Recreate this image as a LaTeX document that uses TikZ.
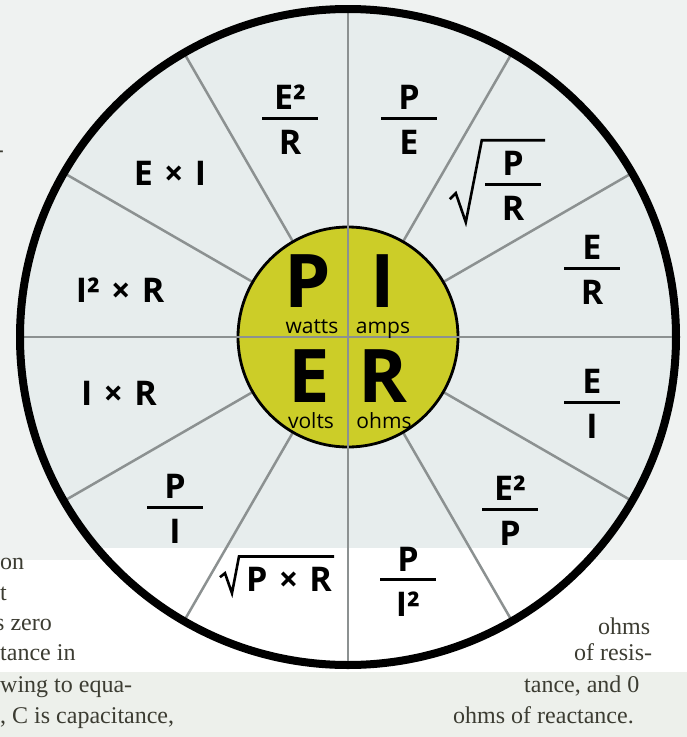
\documentclass[tikz,border=0pt]{standalone}
\usepackage{fontspec}
\setmainfont{Liberation Serif}
\newfontfamily\formfont{Open Sans}
\usetikzlibrary{positioning}
\definecolor{pagebg}{RGB}{239,242,241}
\definecolor{bandbg}{RGB}{237,240,235}
\definecolor{wheelbg}{RGB}{231,237,237}
\definecolor{hubyellow}{RGB}{204,205,40}
\definecolor{spokegray}{RGB}{140,145,145}
\definecolor{inktext}{RGB}{60,60,50}
\newcommand{\frc}[2]{\vbox{\hbox to 56pt{\hss#1\hss}\kern7pt\hrule height 3pt\kern10pt\hbox to 56pt{\hss#2\hss}}}
\newcommand{\tms}{\hspace{0.33em}×\hspace{0.33em}}

\begin{document}
\begin{tikzpicture}[x=1pt, y=-1pt,
  form/.style={font=\formfont\bfseries\fontsize{34}{38}\selectfont, inner sep=0pt, anchor=base},
  big/.style={font=\formfont\bfseries\fontsize{74}{80}\selectfont, inner sep=0pt, anchor=base},
  unit/.style={font=\formfont\fontsize{21}{24}\selectfont, inner sep=0pt, anchor=base},
  bgtext/.style={font=\fontsize{24}{29}\selectfont, text=inktext, inner sep=0pt},
  spoke/.style={draw=spokegray, line width=2.5pt},
  rim/.style={line width=8pt},
  root/.style={line width=2.6pt, line join=miter}]
\useasboundingbox (0,0) rectangle (687,737);
\fill[pagebg] (0,0) rectangle (687,560);
\fill[white] (0,560) rectangle (687,672);
\fill[bandbg] (0,672) rectangle (687,737);

\node[circle, minimum size=656pt, inner sep=0pt, outer sep=0pt, fill=wheelbg] (wheel) at (348,337) {};
\begin{scope}
  \clip (0,548) rectangle (687,737);
  \fill[white] (wheel.center) circle (328);
\end{scope}
\node[circle, minimum size=220pt, inner sep=0pt, outer sep=0pt] (hub) at (wheel.center) {};
\foreach \a in {30,60,120,150,210,240,300,330}
  \draw[spoke] (hub.\a) -- (wheel.\a);
\filldraw[fill=hubyellow, line width=2.8pt] (hub.center) circle (110);
\draw[spoke] (wheel.north) -- (wheel.south);
\draw[spoke] (wheel.west) -- (wheel.east);
\draw[rim] (wheel.center) circle (328);

\node[big] (p) at (308,307) {P};
\node[big] (i) at (383,307) {I};
\node[big] (e) at (309,402) {E};
\node[big] (r) at (383,402) {R};
\node[unit] (watts) at (312,333) {watts};
\node[unit] (amps)  at (383,333) {amps};
\node[unit] (volts) at (311,428) {volts};
\node[unit] (ohms)  at (384,428) {ohms};

\node[form] (e2r)  at (290,154) {\frc{E²}{R}};
\node[form] (pe)   at (409,154) {\frc{P}{E}};
\node[form] (sqpr) at (513,220) {\frc{P}{R}};
\node[form] (er)   at (592,304) {\frc{E}{R}};
\node[form] (ei)   at (592,438) {\frc{E}{I}};
\node[form] (e2p)  at (510,545) {\frc{E²}{P}};
\node[form] (pi2)  at (408,616) {\frc{P}{I²}};
\node[form] (pi)   at (175,543) {\frc{P}{I}};
\node[form] (exi)  at (170,185) {E\tms I};
\node[form] (i2xr) at (120,302) {I²\tms R};
\node[form] (ixr)  at (119,405) {I\tms R};
\node[form] (sqpxr) at (289,591) {P\tms R};
\draw[root] ([shift={(-35,-21)}]sqpr.south west) -- ([shift={(-29,-27)}]sqpr.south west)
  -- ([shift={(-19,2)}]sqpr.south west) -- ([shift={(-3,-11)}]sqpr.north west)
  -- ([shift={(4,-11)}]sqpr.north east);
\draw[root] ([shift={(-26,-14)}]sqpxr.south west) -- ([shift={(-21,-18)}]sqpxr.south west)
  -- ([shift={(-14,2)}]sqpxr.south west) -- ([shift={(-7,-10)}]sqpxr.north west)
  -- ([shift={(2,-10)}]sqpxr.north east);

\node[bgtext, anchor=base east] (hy) at (4,157) {-};
\node[bgtext, anchor=base west] (l1) at (0,569) {on};
\node[bgtext, anchor=base west] (l2) at (0,600) {t};
\node[bgtext, anchor=base west] (l3) at (-5,630) {s zero};
\node[bgtext, anchor=base west] (l4) at (0,660) {tance in};
\node[bgtext, anchor=base west] (l5) at (0,692) {wing to equa-};
\node[bgtext, anchor=base west] (l6) at (0,723) {, C is capacitance,};
\node[bgtext, anchor=base west] (r1) at (598,634) {ohms};
\node[bgtext, anchor=base west] (r2) at (574,660) {of resis-};
\node[bgtext, anchor=base west] (r3) at (524,692) {tance, and 0};
\node[bgtext, anchor=base west] (r4) at (453,723) {ohms of reactance.};
\end{tikzpicture}
\end{document}
